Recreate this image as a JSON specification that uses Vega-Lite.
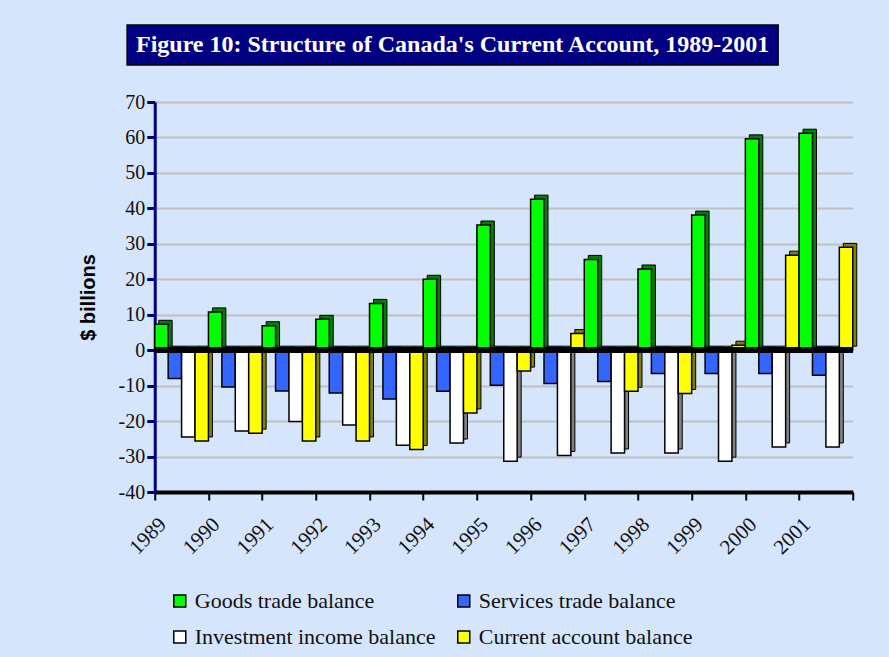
{
  "$schema": "https://vega.github.io/schema/vega-lite/v6.json",
  "background": "#D5E5FC",
  "autosize": {"type": "none"},
  "padding": {"left": 127, "top": 25, "right": 762, "bottom": 632},
  "spacing": 26,
  "center": true,
  "config": {
    "view": {"stroke": null},
    "font": "Liberation Serif"
  },
  "datasets": {
    "titleRow": [{"t": "Figure 10: Structure of Canada's Current Account, 1989-2001", "k": "title"}],
    "balances": [
      {"year": "1989", "series": "Goods trade balance", "value": 7.3},
      {"year": "1989", "series": "Services trade balance", "value": -8.0},
      {"year": "1989", "series": "Investment income balance", "value": -24.5},
      {"year": "1989", "series": "Current account balance", "value": -25.6},
      {"year": "1990", "series": "Goods trade balance", "value": 10.8},
      {"year": "1990", "series": "Services trade balance", "value": -10.4},
      {"year": "1990", "series": "Investment income balance", "value": -22.8},
      {"year": "1990", "series": "Current account balance", "value": -23.4},
      {"year": "1991", "series": "Goods trade balance", "value": 6.9},
      {"year": "1991", "series": "Services trade balance", "value": -11.5},
      {"year": "1991", "series": "Investment income balance", "value": -20.1},
      {"year": "1991", "series": "Current account balance", "value": -25.6},
      {"year": "1992", "series": "Goods trade balance", "value": 8.7},
      {"year": "1992", "series": "Services trade balance", "value": -12.1},
      {"year": "1992", "series": "Investment income balance", "value": -21.1},
      {"year": "1992", "series": "Current account balance", "value": -25.6},
      {"year": "1993", "series": "Goods trade balance", "value": 13.2},
      {"year": "1993", "series": "Services trade balance", "value": -13.8},
      {"year": "1993", "series": "Investment income balance", "value": -26.8},
      {"year": "1993", "series": "Current account balance", "value": -28.0},
      {"year": "1994", "series": "Goods trade balance", "value": 20.0},
      {"year": "1994", "series": "Services trade balance", "value": -11.6},
      {"year": "1994", "series": "Investment income balance", "value": -26.2},
      {"year": "1994", "series": "Current account balance", "value": -17.7},
      {"year": "1995", "series": "Goods trade balance", "value": 35.3},
      {"year": "1995", "series": "Services trade balance", "value": -9.9},
      {"year": "1995", "series": "Investment income balance", "value": -31.3},
      {"year": "1995", "series": "Current account balance", "value": -5.9},
      {"year": "1996", "series": "Goods trade balance", "value": 42.6},
      {"year": "1996", "series": "Services trade balance", "value": -9.4},
      {"year": "1996", "series": "Investment income balance", "value": -29.7},
      {"year": "1996", "series": "Current account balance", "value": 4.7},
      {"year": "1997", "series": "Goods trade balance", "value": 25.6},
      {"year": "1997", "series": "Services trade balance", "value": -8.8},
      {"year": "1997", "series": "Investment income balance", "value": -29.0},
      {"year": "1997", "series": "Current account balance", "value": -11.6},
      {"year": "1998", "series": "Goods trade balance", "value": 22.9},
      {"year": "1998", "series": "Services trade balance", "value": -6.6},
      {"year": "1998", "series": "Investment income balance", "value": -29.0},
      {"year": "1998", "series": "Current account balance", "value": -12.2},
      {"year": "1999", "series": "Goods trade balance", "value": 38.1},
      {"year": "1999", "series": "Services trade balance", "value": -6.6},
      {"year": "1999", "series": "Investment income balance", "value": -31.3},
      {"year": "1999", "series": "Current account balance", "value": 1.4},
      {"year": "2000", "series": "Goods trade balance", "value": 59.6},
      {"year": "2000", "series": "Services trade balance", "value": -6.6},
      {"year": "2000", "series": "Investment income balance", "value": -27.3},
      {"year": "2000", "series": "Current account balance", "value": 26.8},
      {"year": "2001", "series": "Goods trade balance", "value": 61.2},
      {"year": "2001", "series": "Services trade balance", "value": -7.1},
      {"year": "2001", "series": "Investment income balance", "value": -27.3},
      {"year": "2001", "series": "Current account balance", "value": 29.0}
    ]
  },
  "vconcat": [
    {
      "width": 651,
      "height": 40,
      "view": {"fill": "#000080", "stroke": "#000000", "strokeWidth": 1.5},
      "data": {"name": "titleRow"},
      "mark": {"type": "text", "color": "#FFFFFF", "font": "Liberation Serif", "fontWeight": "bold", "fontSize": 24, "align": "center", "baseline": "middle"},
      "encoding": {
        "text": {"field": "t", "type": "nominal"},
        "y": {
          "field": "k", "type": "nominal",
          "axis": {"orient": "right", "offset": 106, "domain": true, "domainOpacity": 0, "ticks": false, "labels": false, "grid": false, "title": null}
        }
      }
    },
    {
      "width": 698,
      "height": 390,
      "data": {"name": "balances"},
      "resolve": {"scale": {"y": "independent", "xOffset": "independent", "color": "independent"}, "axis": {"y": "independent"}},
      "layer": [
        {
          "mark": {"type": "bar", "stroke": "#000000", "strokeWidth": 1},
          "encoding": {
            "x": {
              "field": "year", "type": "nominal",
              "scale": {"paddingInner": 0, "paddingOuter": 0},
              "axis": {
                "title": null,
                "domainColor": "#000000", "domainWidth": 4,
                "tickColor": "#000000", "tickWidth": 2, "tickSize": 8, "tickBand": "extent",
                "labelAngle": -45, "labelAlign": "right", "labelBaseline": "middle",
                "labelOffset": -19, "labelPadding": 21,
                "labelFont": "Liberation Serif", "labelFontSize": 21, "labelColor": "#111111"
              }
            },
            "xOffset": {
              "field": "series", "type": "nominal",
              "sort": ["Goods trade balance", "Services trade balance", "Investment income balance", "Current account balance"],
              "scale": {"range": [4, 57.7]}
            },
            "y": {
              "field": "value", "type": "quantitative",
              "scale": {"domain": [-40, 70], "nice": false, "zero": false, "range": [386, -4]},
              "axis": null
            },
            "color": {
              "field": "series", "type": "nominal",
              "scale": {
                "domain": ["Goods trade balance", "Services trade balance", "Investment income balance", "Current account balance"],
                "range": ["#008000", "#1A3A99", "#808080", "#808000"]
              },
              "legend": null
            }
          }
        },
        {
          "mark": {"type": "bar", "stroke": "#000000", "strokeWidth": 1.5},
          "encoding": {
            "x": {"field": "year", "type": "nominal"},
            "xOffset": {
              "field": "series", "type": "nominal",
              "sort": ["Goods trade balance", "Services trade balance", "Investment income balance", "Current account balance"],
              "scale": {"paddingInner": 0, "paddingOuter": 0}
            },
            "y": {
              "field": "value", "type": "quantitative",
              "scale": {"domain": [-40, 70], "nice": false, "zero": false},
              "axis": {
                "values": [-40, -30, -20, -10, 0, 10, 20, 30, 40, 50, 60, 70],
                "labelExpr": "'' + datum.value",
                "title": "$ billions",
                "titleFont": "Liberation Sans", "titleFontWeight": "bold", "titleFontSize": 20, "titleColor": "#000000",
                "titlePadding": 20,
                "domainColor": "#000080", "domainWidth": 3,
                "tickColor": "#000080", "tickWidth": 3, "tickSize": 8,
                "labelFont": "Liberation Serif", "labelFontSize": 20, "labelColor": "#111111", "labelPadding": 2,
                "grid": true, "gridColor": "#C0C0C0", "gridWidth": 2
              }
            },
            "color": {
              "field": "series", "type": "nominal",
              "scale": {
                "domain": ["Goods trade balance", "Services trade balance", "Investment income balance", "Current account balance"],
                "range": ["#00FF00", "#3366FF", "#FFFFFF", "#FFFF00"]
              },
              "legend": {
                "title": null,
                "orient": "none",
                "legendX": 14,
                "legendY": 488,
                "direction": "horizontal",
                "columns": 2,
                "symbolType": "square",
                "symbolSize": 144,
                "symbolStrokeColor": "#000000",
                "symbolStrokeWidth": 1.5,
                "symbolOpacity": 1,
                "labelFont": "Liberation Serif",
                "labelFontSize": 22,
                "labelColor": "#111111",
                "labelLimit": 400,
                "labelOffset": 4,
                "rowPadding": 14,
                "columnPadding": 17
              }
            }
          }
        },
        {
          "mark": {"type": "rule", "color": "#000000", "strokeWidth": 5},
          "encoding": {"y": {"datum": 0, "type": "quantitative", "scale": {"domain": [-40, 70], "nice": false, "zero": false}, "axis": null}}
        }
      ]
    }
  ]
}
